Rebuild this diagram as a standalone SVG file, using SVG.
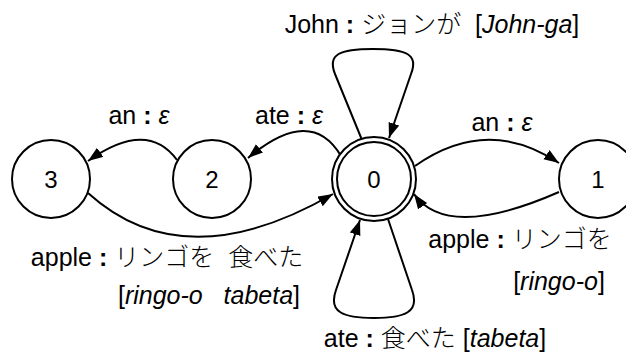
<svg xmlns="http://www.w3.org/2000/svg" width="626" height="360" viewBox="0 0 626 360">
<style>
.n{fill:#fff;stroke:#000;stroke-width:2}
.e{fill:none;stroke:#000;stroke-width:2;marker-end:url(#ah)}
text{font-family:"Liberation Sans","Noto Sans CJK JP",sans-serif;font-size:25px;fill:#000}
.d{text-anchor:middle;font-size:24px}
.m{text-anchor:middle}
.j{font-family:"Noto Sans CJK JP",sans-serif;font-weight:300;fill:#000}
.i{font-style:italic}
.c{font-weight:bold}
</style>
<defs>
<marker id="ah" markerUnits="userSpaceOnUse" markerWidth="16" markerHeight="12" refX="15" refY="5.5" orient="auto">
<path d="M0,0 L15,5.5 L0,11 z" fill="#000"/>
</marker>
</defs>
<g id="connectors">
<path class="e" d="M362,140 L335,74 C327,54 340,49 373,49 C406,49 419,54 411,74 L389,138"/>
<path class="e" d="M388,219 L412,290 C420,312 405,318 374,318 C343,318 328,312 336,290 L360,220"/>
<path class="e" d="M341,156 Q311,105 248,158"/>
<path class="e" d="M177,160 Q147,119 88,161"/>
<path class="e" d="M415,166 Q487,115 559,163"/>
<path class="e" d="M559,192 Q447,241 414,194"/>
<path class="e" d="M88,193 Q184,280 333,194"/>
</g>
<g id="node0">
<circle class="n" cx="374" cy="179" r="42"/>
<circle class="n" cx="374" cy="179" r="37"/>
<text class="d" x="374" y="187.5">0</text>
</g>
<g id="node1">
<circle class="n" cx="598" cy="179" r="39"/>
<text class="d" x="598" y="187.5">1</text>
</g>
<g id="node2">
<circle class="n" cx="212" cy="179" r="39"/>
<text class="d" x="212" y="187.5">2</text>
</g>
<g id="node3">
<circle class="n" cx="51" cy="179" r="39"/>
<text class="d" x="51" y="187.5">3</text>
</g>
<g id="labels">
<text class="m" x="432" y="33" xml:space="preserve">John <tspan class="c">:</tspan> <tspan class="j">ジョンが</tspan>  [<tspan class="i">John-ga</tspan>]</text>
<text class="m" x="289" y="124" xml:space="preserve">ate <tspan class="c">:</tspan> <tspan class="i">ε</tspan></text>
<text class="m" x="139" y="124" xml:space="preserve">an <tspan class="c">:</tspan> <tspan class="i">ε</tspan></text>
<text class="m" x="502" y="131" xml:space="preserve">an <tspan class="c">:</tspan> <tspan class="i">ε</tspan></text>
<text class="m" x="520" y="248" xml:space="preserve">apple <tspan class="c">:</tspan> <tspan class="j">リンゴを</tspan></text>
<text class="m" x="559" y="290" xml:space="preserve">[<tspan class="i">ringo-o</tspan>]</text>
<text class="m" x="435" y="347" xml:space="preserve">ate <tspan class="c">:</tspan> <tspan class="j">食べた</tspan> [<tspan class="i">tabeta</tspan>]</text>
<text class="m" x="167" y="266" xml:space="preserve">apple <tspan class="c">:</tspan> <tspan class="j">リンゴを</tspan>  <tspan class="j">食べた</tspan></text>
<text class="m" x="209" y="304" xml:space="preserve">[<tspan class="i">ringo-o</tspan>   <tspan class="i">tabeta</tspan>]</text>
</g>
</svg>
